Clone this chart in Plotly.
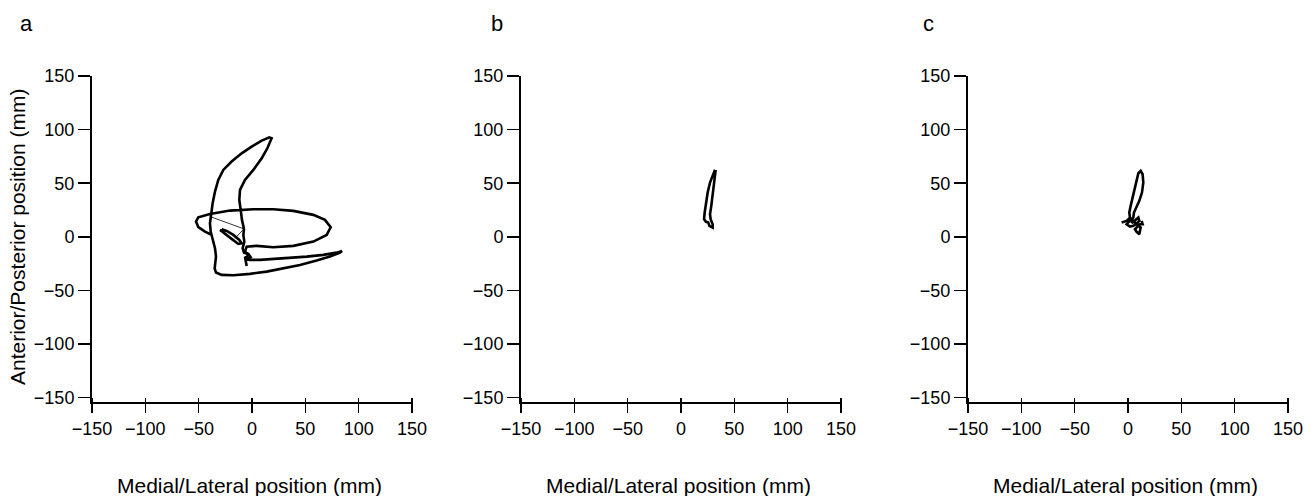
import plotly.graph_objects as go

# ---------------- data (mm) ----------------
# Panel a: main trajectory
a_main_x = [-7.5, -9.4, -10.6, -11.9, -11.25, -6.6, 1.25, 9.1, 14.4, 17.5, 18.4,
            16.25, 9.1, -0.3, -9.7, -19.1, -26.9, -31.6, -34.7, -36.9, -38.4, -39.4,
            -38.75, -36.9, -34.7, -33.75, -34.7, -35.0, -33.75,
            -28.4, -17.5, -1.9, 13.75, 29.4, 45.0, 60.6, 73.1, 82.5, 84.4,
            79.4, 66.9, 51.25, 35.6, 20.0, 7.5, -1.9, -6.6,
            -3.4, -6.6, -5.0, 4.4, 20.0, 38.75, 57.5, 70.0, 73.75, 68.4, 57.5,
            38.75, 20.0, 1.25, -20.6, -39.4, -50.3, -52.5, -50.3, -44.1, -37.8]
a_main_y = [7.4, 15.8, 25.1, 34.4, 43.8, 53.1, 62.4, 73.3, 82.6, 90.4, 91.9,
            92.8, 89.7, 84.1, 77.9, 70.2, 62.4, 53.1, 42.2, 31.3, 20.5, 12.7,
            4.9, -2.9, -10.6, -18.4, -24.6, -29.3, -33.3,
            -35.5, -35.8, -34.5, -32.4, -29.3, -26.2, -22.1, -18.4, -14.7, -13.1,
            -14.7, -16.8, -18.4, -19.6, -20.9, -21.5, -21.5, -20.9,
            -16.8, -13.7, -9.1, -8.4, -9.7, -8.4, -4.4, 1.8, 8.96, 15.8, 20.5,
            24.2, 25.7, 25.7, 24.5, 21.4, 18.3, 14.2, 9.0, 4.9, 1.8]
# Panel a: short vertical piece below the centre point
a_stem_x = [-7.5, -8.1, -7.2, -8.75, -7.5, -3.4, -1.25, -5.0, -6.6, -5.6, -5.0]
a_stem_y = [7.4, 1.8, -4.4, -10.6, -14.7, -15.9, -19.0, -20.9, -18.4, -23.0, -27.1]
# Panel a: small loop
a_loop_x = [-28.4, -23.75, -17.5, -11.9, -9.7, -12.8, -19.1, -26.25, -29.1, -28.4]
a_loop_y = [7.1, 5.5, 1.8, -2.9, -6.0, -6.6, -1.9, 3.4, 5.8, 7.1]
# Panel a: thin connecting lines
a_thin_x = [-38.4, -7.5, -15.9]
a_thin_y = [18.6, 7.4, -1.3]

# Panel b
b_x = [31.9, 29.7, 27.2, 25.0, 23.4, 22.2, 21.6, 23.4, 25.6, 26.6, 29.7, 29.7,
       27.8, 27.2, 28.4, 29.7, 30.9, 31.9, 32.5]
b_y = [62.5, 57.5, 50.6, 41.3, 32.0, 22.7, 16.5, 14.0, 13.4, 10.3, 8.7, 11.8,
       16.5, 21.1, 28.9, 38.2, 47.5, 56.9, 62.5]

# Panel c
c_x = [-6.0, -1.3, 1.85, 1.2, 2.5, 4.4, 6.5, 8.1, 9.7, 11.9, 13.7, 14.35, 13.1,
       10.6, 7.5, 5.6, 5.0, 2.5, 4.35, 7.5, 9.7, 10.6, 7.5, 5.0, 1.85, -1.3, 3.4,
       6.5, 9.7, 11.9, 11.2, 10.6, 8.1, 6.5, 11.2, 13.7, 12.8]
c_y = [13.4, 14.9, 18.0, 22.7, 28.9, 36.7, 46.0, 53.7, 59.3, 61.5, 58.4, 50.6,
       41.3, 33.6, 27.3, 22.7, 18.0, 14.9, 13.4, 16.5, 18.0, 14.9, 11.8, 10.3,
       9.6, 11.8, 16.5, 13.4, 10.3, 8.7, 5.6, 2.5, 4.7, 7.1, 11.8, 11.8, 14.9]

tick_vals = [-150, -100, -50, 0, 50, 100, 150]
panel_letters = ["a", "b", "c"]
x_title = "Medial/Lateral position (mm)"
y_title = "Anterior/Posterior position (mm)"

# ---------------- figure ----------------
W, H = 1314, 496
FONT = "Liberation Sans, Arial, Helvetica, sans-serif"
fig = go.Figure()

line_main = dict(color="black", width=2.6)

fig.add_trace(go.Scatter(x=a_main_x, y=a_main_y, mode="lines", line=line_main,
                         xaxis="x", yaxis="y", showlegend=False))
fig.add_trace(go.Scatter(x=a_stem_x, y=a_stem_y, mode="lines", line=line_main,
                         xaxis="x", yaxis="y", showlegend=False))
fig.add_trace(go.Scatter(x=a_loop_x, y=a_loop_y, mode="lines", line=line_main,
                         xaxis="x", yaxis="y", showlegend=False))
fig.add_trace(go.Scatter(x=a_thin_x, y=a_thin_y, mode="lines",
                         line=dict(color="black", width=0.8),
                         xaxis="x", yaxis="y", showlegend=False))
fig.add_trace(go.Scatter(x=b_x, y=b_y, mode="lines", line=line_main,
                         xaxis="x2", yaxis="y2", showlegend=False))
fig.add_trace(go.Scatter(x=c_x, y=c_y, mode="lines", line=line_main,
                         xaxis="x3", yaxis="y3", showlegend=False))

# pixel layout
x_px = [(92, 412), (521, 841), (968, 1288)]
y_top, y_bot = 76, 402
ydom = [1 - y_bot / H, 1 - y_top / H]
tick_top = 397  # crossing x ticks start a few pixels above the axis line

common_x = dict(range=[-150, 150], tickvals=tick_vals, showline=True, linecolor="black",
                linewidth=2, ticks="", showticklabels=False,
                showgrid=False, zeroline=False, fixedrange=True, automargin=False)
common_y = dict(range=[-154, 150], tickvals=tick_vals, showline=True, linecolor="black",
                linewidth=2, ticks="outside", ticklen=12, tickwidth=1.5, tickcolor="black",
                showgrid=False, zeroline=False, tickfont=dict(size=18, color="black", family=FONT),
                fixedrange=True, automargin=False)

layout = dict(width=W, height=H, margin=dict(l=0, r=0, t=0, b=0, pad=0), autosize=False,
              paper_bgcolor="white", plot_bgcolor="white",
              font=dict(family=FONT, color="black"), showlegend=False)
annotations = []
for i, (x0, x1) in enumerate(x_px):
    sfx = "" if i == 0 else str(i + 1)
    dom = [x0 / W, x1 / W]
    layout["xaxis" + sfx] = dict(common_x, domain=dom, anchor="y" + sfx)
    layout["yaxis" + sfx] = dict(common_y, domain=ydom, anchor="x" + sfx)
    # tick + label axis placed slightly above the line so ticks cross it
    k = 4 + i
    layout["xaxis" + str(k)] = dict(range=[-150, 150], tickvals=tick_vals, domain=dom,
                                    ticks="outside", ticklen=15, tickwidth=1.5, tickcolor="black",
                                    showticklabels=True, ticklabelstandoff=0,
                                    tickfont=dict(size=18, color="black", family=FONT),
                                    showline=False, showgrid=False, zeroline=False,
                                    overlaying="x" + sfx, anchor="free",
                                    position=1 - tick_top / H,
                                    side="bottom", fixedrange=True, automargin=False)
    cx = (x0 + x1) / 2 / W
    annotations.append(dict(text=x_title, x=cx - 3 / W, y=1 - 485 / H, xref="paper", yref="paper",
                            showarrow=False, xanchor="center", yanchor="middle",
                            font=dict(size=21, family=FONT, color="black")))

letter_x = [26, 497, 928]
for lx, lt in zip(letter_x, panel_letters):
    annotations.append(dict(text=lt, x=lx / W, y=1 - 23 / H, xref="paper", yref="paper",
                            showarrow=False, xanchor="center", yanchor="middle",
                            font=dict(size=22, family=FONT, color="black")))

annotations.append(dict(text=y_title, x=18 / W, y=1 - 237 / H, xref="paper", yref="paper",
                        showarrow=False, textangle=-90, xanchor="center", yanchor="middle",
                        font=dict(size=21, family=FONT, color="black")))
layout["annotations"] = annotations

# invisible traces so the overlay tick axes render
for i in range(3):
    sfx = "" if i == 0 else str(i + 1)
    fig.add_trace(go.Scatter(x=[0], y=[0], xaxis="x" + str(4 + i), yaxis="y" + sfx,
                             mode="markers", marker=dict(opacity=0),
                             showlegend=False, hoverinfo="skip"))

fig.update_layout(**layout)
fig.write_html(
    "out.html",
    config={"displayModeBar": False, "staticPlot": True},
    post_script="document.documentElement.style.margin='0';document.body.style.margin='0';"
                "document.body.style.padding='0';document.body.style.overflow='hidden';",
)
